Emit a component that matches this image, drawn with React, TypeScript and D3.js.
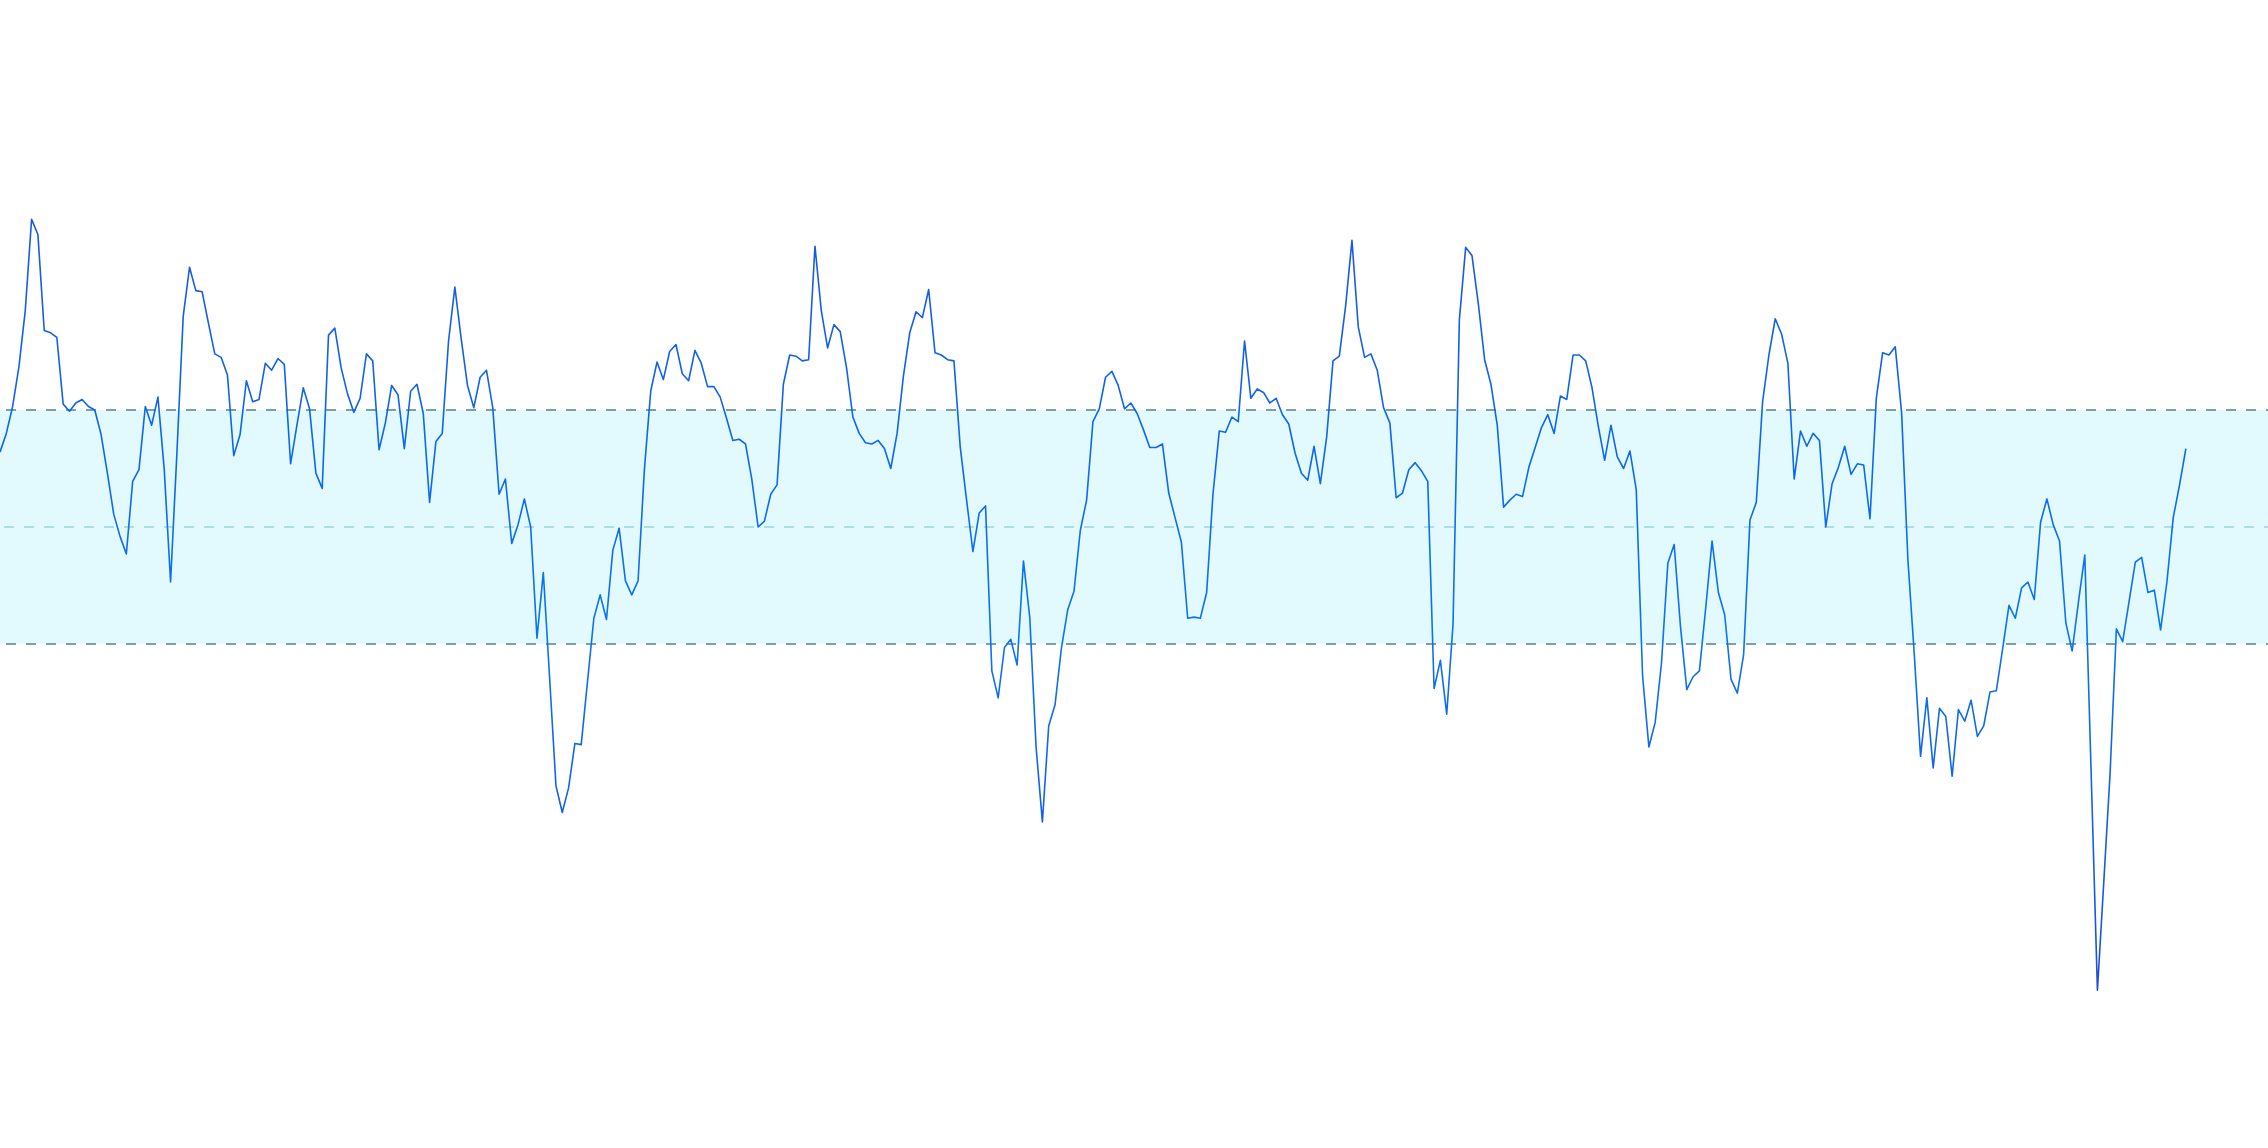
import React from "react";
import * as d3 from "d3";

const values: number[] = [
  106.4, 108.0, 110.3, 113.7, 118.5, 126.3, 125.0, 116.8, 116.6, 116.2,
  110.5, 109.9, 110.6, 110.9, 110.3, 110.0, 107.9, 104.6, 101.1, 99.2,
  97.7, 103.9, 104.9, 110.3, 108.7, 111.1, 104.9, 95.3, 106.3, 118.0,
  122.2, 120.2, 120.1, 117.4, 114.8, 114.5, 113.0, 106.1, 107.9, 112.5,
  110.7, 110.9, 114.0, 113.4, 114.4, 113.9, 105.4, 108.7, 111.9, 110.1,
  104.6, 103.3, 116.4, 117.0, 113.6, 111.4, 109.8, 111.0, 114.8, 114.2,
  106.6, 108.9, 112.1, 111.3, 106.7, 111.6, 112.2, 109.7, 102.1, 107.3,
  108.0, 115.9, 120.5, 116.1, 112.1, 110.2, 112.8, 113.4, 110.2, 102.8,
  104.1, 98.6, 100.2, 102.4, 100.0, 90.5, 96.1, 87.1, 77.9, 75.6,
  77.7, 81.5, 81.4, 86.8, 92.2, 94.2, 92.1, 98.0, 99.9, 95.4,
  94.2, 95.4, 104.9, 111.6, 114.1, 112.6, 115.0, 115.6, 113.1, 112.5,
  115.1, 114.0, 112.0, 112.0, 111.1, 109.3, 107.4, 107.5, 107.1, 104.1,
  100.0, 100.5, 102.8, 103.6, 112.2, 114.7, 114.6, 114.2, 114.3, 124.0,
  118.5, 115.3, 117.3, 116.7, 113.6, 109.4, 108.0, 107.2, 107.1, 107.4,
  106.7, 105.0, 108.0, 112.9, 116.6, 118.4, 117.9, 120.3, 114.9, 114.7,
  114.3, 114.2, 106.8, 102.3, 97.9, 101.2, 101.8, 87.7, 85.4, 89.7,
  90.4, 88.2, 97.1, 92.3, 81.2, 74.8, 83.0, 84.8, 89.6, 92.9,
  94.5, 99.7, 102.3, 109.0, 110.1, 112.8, 113.3, 112.1, 110.1, 110.6,
  109.7, 108.3, 106.8, 106.8, 107.1, 102.9, 100.8, 98.7, 92.2, 92.3,
  92.2, 94.4, 102.8, 108.2, 108.1, 109.4, 109.0, 115.9, 111.0, 111.8,
  111.5, 110.6, 111.0, 109.6, 108.8, 106.3, 104.6, 104.0, 106.9, 103.7,
  107.7, 114.2, 114.6, 118.9, 124.5, 117.1, 114.5, 114.8, 113.4, 110.2,
  108.9, 102.5, 102.9, 104.9, 105.5, 104.8, 103.9, 86.2, 88.6, 84.0,
  91.7, 117.7, 123.9, 123.2, 119.1, 114.3, 112.2, 108.7, 101.7, 102.3,
  102.8, 102.6, 105.1, 106.8, 108.5, 109.6, 108.0, 111.2, 110.9, 114.7,
  114.7, 114.2, 111.9, 108.6, 105.7, 108.7, 106.0, 105.0, 106.5, 103.2,
  87.3, 81.2, 83.3, 88.4, 96.9, 98.5, 91.5, 86.1, 87.2, 87.7,
  93.1, 98.8, 94.4, 92.5, 87.0, 85.8, 89.1, 100.6, 102.1, 110.7,
  114.7, 117.8, 116.5, 114.0, 104.1, 108.2, 106.9, 108.0, 107.4, 100.0,
  103.7, 105.1, 106.9, 104.5, 105.4, 105.3, 100.7, 111.0, 114.9, 114.7,
  115.4, 109.8, 97.2, 89.2, 80.4, 85.4, 79.4, 84.5, 83.8, 78.7,
  84.4, 83.4, 85.2, 82.1, 83.0, 85.9, 86.0, 89.6, 93.3, 92.2,
  94.8, 95.3, 93.8, 100.4, 102.4, 100.2, 98.8, 91.8, 89.4, 93.6,
  97.6, 79.1, 60.4, 69.6, 78.9, 91.3, 90.2, 93.6, 97.0, 97.4,
  94.4, 94.6, 91.2, 95.3, 100.8, 103.6, 106.7,
];

// Control limits: mean and the upper / lower limits of the band
const centerLine = 100;
const upperLimit = 110;
const lowerLimit = 90;

// Number of periods on the time axis (the series fills the first part)
const periodCount = 360;

const WIDTH = 2268;
const HEIGHT = 1148;

export default function App() {
  const x = d3.scaleLinear().domain([0, periodCount - 1]).range([0, WIDTH]);
  const y = d3.scaleLinear().domain([50, 150]).range([1112, -58]);

  const line = d3
    .line<number>()
    .x((_, i) => x(i))
    .y((d) => y(d));

  const yTop = y(upperLimit);
  const yBot = y(lowerLimit);
  const yMid = y(centerLine);

  return (
    <svg
      width={WIDTH}
      height={HEIGHT}
      style={{ position: "absolute", left: 0, top: 0, display: "block", background: "#ffffff" }}
    >
      <defs>
        <linearGradient id="lineGrad" gradientUnits="userSpaceOnUse" x1="0" y1={y(130)} x2="0" y2={y(60)}>
          <stop offset="0" stopColor="#1f55dc" />
          <stop offset="0.3" stopColor="#0c66ee" />
          <stop offset="0.55" stopColor="#0a74f2" />
          <stop offset="1" stopColor="#1a4ede" />
        </linearGradient>
      </defs>
      <rect x={0} y={yTop} width={WIDTH} height={yBot - yTop} fill="#e2fafd" />
      <line
        x1={0}
        x2={WIDTH}
        y1={yMid}
        y2={yMid}
        stroke="#9fd4df"
        strokeWidth={1.6}
        strokeDasharray="10 10"
        strokeDashoffset={-4}
      />
      <line
        x1={0}
        x2={WIDTH}
        y1={yTop}
        y2={yTop}
        stroke="#7c9fa8"
        strokeWidth={1.8}
        strokeDasharray="10 10"
        strokeDashoffset={-6}
      />
      <line
        x1={0}
        x2={WIDTH}
        y1={yBot}
        y2={yBot}
        stroke="#7c9fa8"
        strokeWidth={1.8}
        strokeDasharray="10 10"
        strokeDashoffset={-6}
      />
      <path
        d={line(values) ?? ""}
        fill="none"
        stroke="url(#lineGrad)"
        strokeWidth={1.6}
        strokeLinejoin="round"
      />
    </svg>
  );
}
